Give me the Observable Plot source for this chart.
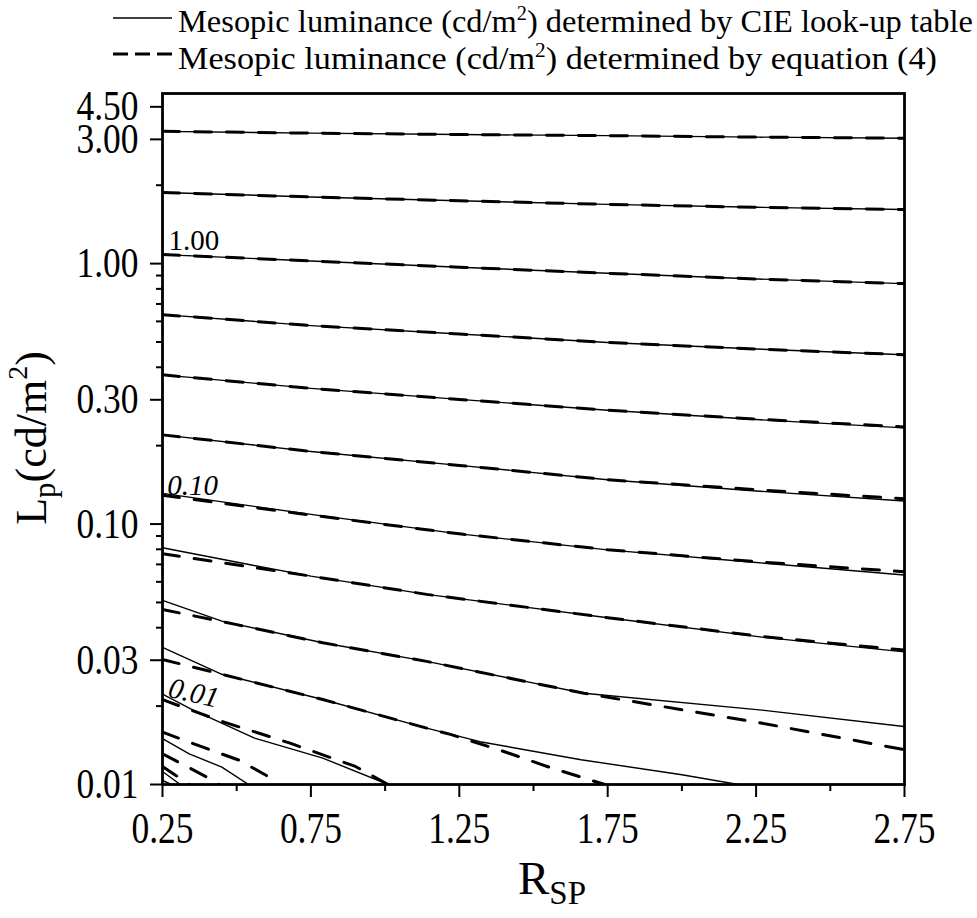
<!DOCTYPE html>
<html><head><meta charset="utf-8">
<script src="https://cdn.jsdelivr.net/npm/d3@7"></script>
<script src="https://cdn.jsdelivr.net/npm/@observablehq/plot@0.6"></script>
<style>
body{margin:0;background:#fff;}
#wrap{width:977px;font-family:"Liberation Serif","Times New Roman",serif;}
#legend svg,#chart svg{display:block;}
</style></head><body><div id="wrap"><div id="legend"></div><div id="chart"></div></div>
<script>
// ---- axis ticks ----
const xTicksMajor = [0.25, 0.75, 1.25, 1.75, 2.25, 2.75];
const xTicksMinor = [0.5, 1.0, 1.5, 2.0, 2.5];
const yTicksMajor = [0.01, 0.03, 0.1, 0.3, 1, 3, 4];
const yTickLabels = ["0.01", "0.03", "0.10", "0.30", "1.00", "3.00", "4.50"];
const yTicksMinor = [0.02, 0.04, 0.05, 0.06, 0.07, 0.08, 0.09, 0.2, 0.4, 0.5, 0.6, 0.7, 0.8, 0.9, 2];

// ---- legend ----
const legendLabels = [
  ["Mesopic luminance (cd/m", "2", ") determined by CIE look-up table"],
  ["Mesopic luminance (cd/m", "2", ") determined by equation (4)"]
];

// ---- contour lines [R_SP, L_p] : CIE look-up table (solid) ----
const cieLines = [
  [[0.25,3.22],[0.75,3.17],[1.25,3.13],[1.75,3.10],[2.25,3.06],[2.75,3.03]],
  [[0.25,1.875],[0.75,1.803],[1.25,1.743],[1.75,1.688],[2.25,1.646],[2.75,1.613]],
  [[0.25,1.083],[0.75,1.024],[1.25,0.969],[1.75,0.918],[2.25,0.873],[2.75,0.838]],
  [[0.25,0.637],[0.75,0.578],[1.25,0.537],[1.75,0.498],[2.25,0.470],[2.75,0.447]],
  [[0.25,0.374],[0.75,0.332],[1.25,0.301],[1.75,0.2735],[2.25,0.252],[2.75,0.234]],
  [[0.25,0.220],[0.75,0.190],[1.25,0.168],[1.75,0.148],[2.25,0.134],[2.75,0.1226]],
  [[0.25,0.1312],[0.75,0.1089],[1.25,0.0917],[1.75,0.0796],[2.25,0.0712],[2.75,0.0637]],
  [[0.25,0.0811],[0.55,0.0696],[0.75,0.0631],[1.14,0.0537],[1.75,0.0437],[2.27,0.0368],[2.75,0.0323]],
  [[0.25,0.0509],[0.45,0.0424],[0.79,0.0350],[1.14,0.0297],[1.67,0.0224],[2.27,0.0193],[2.75,0.0167]],
  [[0.25,0.0336],[0.45,0.0265],[0.79,0.0212],[1.14,0.01646],[1.32,0.0146],[1.66,0.01245],[2.00,0.0109],[2.19,0.0100]],
  [[0.25,0.02225],[0.35,0.01938],[0.56,0.01507],[0.79,0.01263],[1.01,0.0100]],
  [[0.25,0.01499],[0.34,0.01312],[0.45,0.01166],[0.54,0.0100]],
  [[0.25,0.01122],[0.31,0.0100]],
  [[0.25,0.01036],[0.28,0.0100]]
];

// ---- contour lines [R_SP, L_p] : equation (4) (dashed) ----
const eqLines = [
  [[0.25,3.22],[0.75,3.17],[1.25,3.13],[1.75,3.10],[2.25,3.06],[2.75,3.03]],
  [[0.25,1.875],[0.75,1.803],[1.25,1.743],[1.75,1.688],[2.25,1.646],[2.75,1.613]],
  [[0.25,1.083],[0.75,1.024],[1.25,0.969],[1.75,0.918],[2.25,0.873],[2.75,0.838]],
  [[0.25,0.637],[0.75,0.578],[1.25,0.537],[1.75,0.498],[2.25,0.470],[2.75,0.447]],
  [[0.25,0.374],[0.75,0.332],[1.25,0.301],[1.75,0.2735],[2.25,0.253],[2.75,0.236]],
  [[0.25,0.220],[0.75,0.190],[1.25,0.168],[1.75,0.148],[2.25,0.1355],[2.75,0.1250]],
  [[0.25,0.1289],[0.75,0.1083],[1.25,0.0917],[1.75,0.0797],[2.25,0.0717],[2.75,0.0656]],
  [[0.25,0.0769],[0.55,0.0683],[0.75,0.0631],[1.14,0.0537],[1.75,0.0437],[2.27,0.0370],[2.75,0.0328]],
  [[0.25,0.0470],[0.50,0.0411],[0.79,0.0350],[1.14,0.0297],[1.67,0.0224],[2.27,0.0172],[2.75,0.0136]],
  [[0.25,0.0302],[0.45,0.0265],[0.79,0.0212],[1.14,0.01646],[1.22,0.01557],[1.39,0.01351],[1.56,0.01158],[1.74,0.0100]],
  [[0.25,0.02117],[0.45,0.01747],[0.68,0.01441],[0.90,0.01173],[1.01,0.0100]],
  [[0.25,0.01589],[0.37,0.01413],[0.51,0.01237],[0.61,0.01067],[0.62,0.0100]],
  [[0.25,0.01312],[0.40,0.01067],[0.44,0.0100]],
  [[0.25,0.01172],[0.34,0.0100]]
];

// ---- contour value labels ----
const labelText = ["1.00", "0.10", "0.01"];
const labelRsp  = [0.27, 0.266, 0.272];
const labelLp   = [1.226, 0.140, 0.0236];

// ---- build rows ----
const toRows = (lines, kind) => lines.flatMap((pts, i) => pts.map(([x, y]) => ({kind, id: kind + i, x, y})));
const cieRows = toRows(cieLines, "cie");
const eqRows = toRows(eqLines, "eq");
const labels = labelText.map((t, i) => ({text: t, x: labelRsp[i], y: labelLp[i], i}));

const FONT = "Liberation Serif, Times New Roman, serif";

const chart = Plot.plot({
  width: 977,
  height: 838,
  marginTop: 13,
  marginBottom: 134,
  marginLeft: 162,
  marginRight: 73,
  style: {fontFamily: FONT, background: "white", color: "black", overflow: "visible"},
  x: {domain: [0.25, 2.75]},
  y: {type: "log", domain: [0.01, 4.5]},
  marks: [
    Plot.line(cieRows, {x: "x", y: "y", z: "id", stroke: "black", strokeWidth: 1.4, clip: true}),
    Plot.line(eqRows, {x: "x", y: "y", z: "id", stroke: "black", strokeWidth: 3, strokeDasharray: "17,15", clip: true}),
    Plot.frame({stroke: "black", strokeWidth: 2.8}),
    Plot.axisX({ticks: xTicksMajor, tickSize: 13, tickPadding: 14, fontSize: 44, strokeWidth: 2, tickFormat: d => d.toFixed(2), label: null}),
    Plot.axisX({ticks: xTicksMinor, tickSize: 7, strokeWidth: 2, tickFormat: () => "", label: null}),
    Plot.axisY({ticks: yTicksMajor, tickSize: 12, tickPadding: 12, fontSize: 42, strokeWidth: 2, tickFormat: d => yTickLabels[yTicksMajor.indexOf(d)], label: null}),
    Plot.axisY({ticks: yTicksMinor, tickSize: 6, strokeWidth: 2, tickFormat: () => "", label: null}),
    Plot.text(labels.filter(d => d.i === 0), {x: "x", y: "y", text: "text", fontSize: 29, textAnchor: "start", fill: "black"}),
    Plot.text(labels.filter(d => d.i === 1), {x: "x", y: "y", text: "text", fontSize: 29, textAnchor: "start", fontStyle: "italic", fill: "black"}),
    Plot.text(labels.filter(d => d.i === 2), {x: "x", y: "y", text: "text", fontSize: 29, textAnchor: "start", fontStyle: "italic", rotate: 13, fill: "black"})
  ]
});

const svg = d3.select(chart);
// the reference uses a narrow serif face: condense tick labels to its widths
svg.selectAll('g[aria-label$="tick label"] text').each(function() {
  if (this.textContent.trim() !== "") {
    this.setAttribute("textLength", 62);
    this.setAttribute("lengthAdjust", "spacingAndGlyphs");
  }
});

// axis titles with sub/superscripts
const yl = svg.append("text")
  .attr("transform", "translate(46,358) rotate(-90)")
  .attr("text-anchor", "middle")
  .attr("font-family", FONT).attr("font-size", 44).attr("fill", "black");
yl.append("tspan").text("L");
yl.append("tspan").attr("font-size", 31).attr("dy", 9).text("p");
yl.append("tspan").attr("dy", -9).text("(cd/m");
yl.append("tspan").attr("font-size", 28).attr("dy", -19).text("2");
yl.append("tspan").attr("dy", 19).text(")");

const xl = svg.append("text")
  .attr("x", 552).attr("y", 814)
  .attr("text-anchor", "middle")
  .attr("font-family", FONT).attr("font-size", 47).attr("fill", "black");
xl.append("tspan").text("R");
xl.append("tspan").attr("font-size", 33).attr("dy", 10).text("SP");

document.getElementById("chart").appendChild(chart);

// legend above the chart
const lg = d3.select("#legend").append("svg").attr("width", 977).attr("height", 80);
lg.append("line").attr("x1", 113).attr("x2", 172).attr("y1", 18).attr("y2", 18)
  .attr("stroke", "black").attr("stroke-width", 1.5);
lg.append("line").attr("x1", 113).attr("x2", 172).attr("y1", 54).attr("y2", 54)
  .attr("stroke", "black").attr("stroke-width", 3).attr("stroke-dasharray", "15,7");
const legendWidths = [795, 759];
legendLabels.forEach((parts, i) => {
  const t = lg.append("text").attr("x", 178).attr("y", 32 + i * 37)
    .attr("font-family", FONT).attr("font-size", 32).attr("fill", "black")
    .attr("textLength", legendWidths[i]).attr("lengthAdjust", "spacingAndGlyphs");
  t.append("tspan").text(parts[0]);
  t.append("tspan").attr("font-size", 20).attr("dy", -12).text(parts[1]);
  t.append("tspan").attr("dy", 12).text(parts[2]);
});
</script></body></html>
